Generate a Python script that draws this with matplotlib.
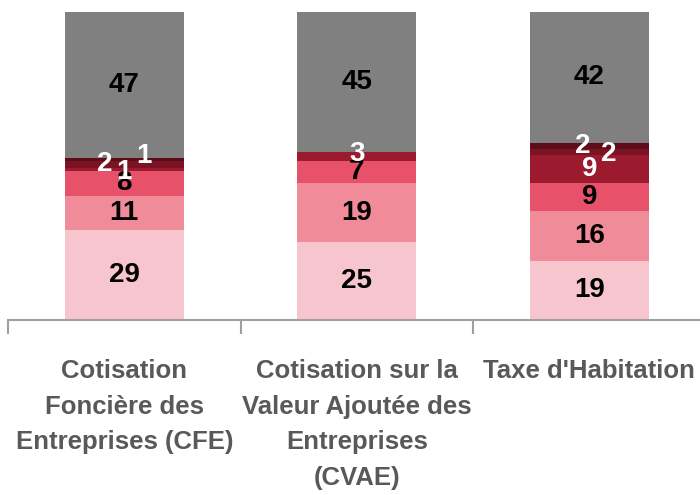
import numpy as np
from matplotlib import pyplot as plt

categories = ["Cotisation\nFoncière des\nEntreprises (CFE)",
              "Cotisation sur la\nValeur Ajoutée des\nEntreprises\n(CVAE)",
              "Taxe d'Habitation"]

# stacked series, bottom to top
s1 = [29, 25, 19]
s2 = [11, 19, 16]
s3 = [8, 7, 9]
s4 = [1, 3, 9]
s5 = [2, 0, 2]
s6 = [1, 0, 2]
s7 = [47, 45, 42]
series = [s1, s2, s3, s4, s5, s6, s7]

colors = ["#f7c5cd", "#f08b99", "#e8516a", "#9b1a2e", "#7a1424", "#5c0d19", "#808080"]
txt_colors = ["black", "black", "black", "white", "white", "white", "black"]

fam = "Liberation Sans"

# manual label nudges (points) for the thin segments
nudge = {(0, 3): (0, -2), (0, 4): (-14, 0), (0, 5): (14, 3),
         (1, 3): (0, 2),
         (2, 4): (-5, 4), (2, 5): (14, -6)}

fig = plt.figure(figsize=(7, 4.95), dpi=100)
ax = fig.add_axes([8/700, 175/495, 697.5/700, 308/495])

x = np.arange(len(categories))
bottom = np.zeros(len(categories))
for k, s in enumerate(series):
    vals = np.array(s, dtype=float)
    ax.bar(x, vals, width=0.51, bottom=bottom, color=colors[k], linewidth=0)
    for i, v in enumerate(vals):
        if v > 0:
            dx, dy = nudge.get((i, k), (0, 0))
            ax.annotate(str(int(v)), (x[i], bottom[i] + v/2), xytext=(dx, dy),
                        textcoords="offset points", ha="center", va="center",
                        fontsize=20, fontweight="bold", color=txt_colors[k],
                        family=fam)
    bottom += vals

ax.set_xlim(-0.5, 2.5)
ax.set_ylim(0, 99)
ax.set_yticks([])
for sp in ["top", "right", "left"]:
    ax.spines[sp].set_visible(False)
ax.spines["bottom"].set_color("#a0a0a0")
ax.spines["bottom"].set_linewidth(1.5)

ax.set_xticks([-0.5, 0.5, 1.5, 2.5])
ax.set_xticklabels([])
ax.tick_params(axis="x", length=10, width=1.5, color="#a0a0a0", direction="out")
ax.set_xticks(x, minor=True)
ax.set_xticklabels(categories, minor=True, fontsize=18.5, fontweight="bold",
                   color="#595959", family=fam, linespacing=1.62)
ax.tick_params(axis="x", which="minor", length=0, pad=28)

fig.savefig("out.png", dpi=100)
